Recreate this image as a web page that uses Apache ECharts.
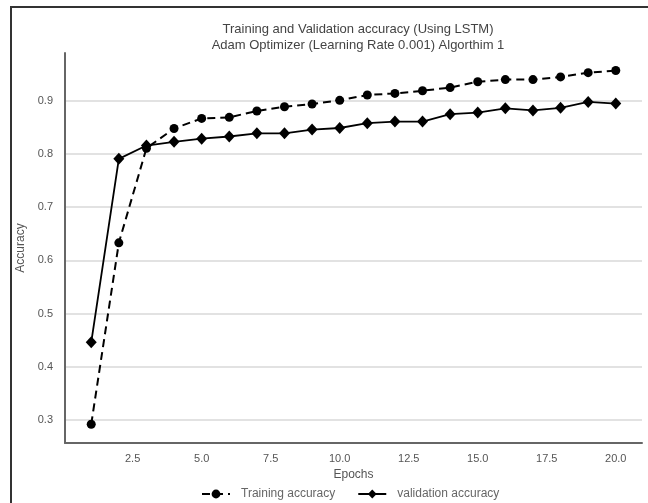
<!DOCTYPE html>
<html>
<head>
<meta charset="utf-8">
<script src="https://cdn.jsdelivr.net/npm/echarts@6/dist/echarts.min.js"></script>
<style>
  html, body { margin: 0; padding: 0; background: #fff; }
  #frame { position: absolute; left: 10px; top: 6px; width: 640px; height: 500px;
           border-left: 2px solid #333; border-top: 2px solid #333; }
  #chart { width: 648px; height: 503px; position: absolute; left: 0; top: 0; }
</style>
</head>
<body>
<div id="frame"></div>
<div id="chart"></div>
<script>
// epochs 1..20
var epochs = [1, 2, 3, 4, 5, 6, 7, 8, 9, 10, 11, 12, 13, 14, 15, 16, 17, 18, 19, 20];
var trainAcc = [0.292, 0.633, 0.811, 0.848, 0.867, 0.869, 0.881, 0.889, 0.894, 0.901,
                0.911, 0.914, 0.919, 0.925, 0.936, 0.940, 0.940, 0.945, 0.953, 0.957];
var valAcc = [0.446, 0.791, 0.816, 0.823, 0.829, 0.833, 0.839, 0.839, 0.846, 0.849,
              0.858, 0.861, 0.861, 0.875, 0.878, 0.886, 0.882, 0.887, 0.898, 0.895];
var xTicks = [2.5, 5.0, 7.5, 10.0, 12.5, 15.0, 17.5, 20.0];
var yTicks = [0.3, 0.4, 0.5, 0.6, 0.7, 0.8, 0.9];

function pairs(xs, ys) {
  var out = [];
  for (var i = 0; i < xs.length; i++) out.push([xs[i], ys[i]]);
  return out;
}

var chart = echarts.init(document.getElementById('chart'), null, { renderer: 'canvas' });
var txt = '#555';
var font = 'Liberation Sans';

chart.setOption({
  animation: false,
  title: {
    text: 'Training and Validation accuracy (Using LSTM)\nAdam Optimizer (Learning Rate 0.001) Algorthim 1',
    left: 353, top: 16, textAlign: 'center',
    textStyle: { fontFamily: font, fontSize: 13, fontWeight: 'normal', color: '#444', lineHeight: 16 }
  },
  grid: { left: 65, right: 6, top: 53, bottom: 60 },
  legend: {
    top: 483, left: 196,
    itemWidth: 28, itemHeight: 11, itemGap: 22,
    textStyle: { fontFamily: font, fontSize: 12, color: '#666', padding: [0, 0, 0, 6] },
    data: ['Training accuracy', 'validation accuracy']
  },
  xAxis: {
    type: 'value', min: 0.05, max: 20.95,
    name: 'Epochs', nameLocation: 'middle', nameGap: 23,
    nameTextStyle: { fontFamily: font, fontSize: 12, color: txt },
    axisLine: { show: true, lineStyle: { color: '#666', width: 2 } },
    axisTick: { show: false, customValues: xTicks },
    axisLabel: { customValues: xTicks, fontFamily: font, fontSize: 11, color: txt, margin: 10,
      formatter: function (v) { return v.toFixed(1); } },
    splitLine: { show: false }
  },
  yAxis: {
    type: 'value', min: 0.2567, max: 0.99,
    name: 'Accuracy', nameLocation: 'middle', nameGap: 29,
    nameTextStyle: { fontFamily: font, fontSize: 12, color: txt },
    axisLine: { show: true, lineStyle: { color: '#666', width: 2 } },
    axisTick: { show: false, customValues: yTicks },
    axisLabel: { customValues: yTicks, fontFamily: font, fontSize: 11, color: txt, margin: 12,
      formatter: function (v) { return v.toFixed(1); } },
    splitLine: { show: true, lineStyle: { color: '#e2e2e2', width: 2 } }
  },
  series: [
    {
      name: 'Training accuracy', type: 'line',
      data: pairs(epochs, trainAcc),
      symbol: 'circle', symbolSize: 9,
      itemStyle: { color: '#000' },
      lineStyle: { color: '#000', width: 2, type: [8, 5] },
      z: 3
    },
    {
      name: 'validation accuracy', type: 'line',
      data: pairs(epochs, valAcc),
      symbol: 'diamond', symbolSize: [11, 12],
      itemStyle: { color: '#000' },
      lineStyle: { color: '#000', width: 1.8 },
      z: 4
    }
  ]
});
</script>
</body>
</html>
